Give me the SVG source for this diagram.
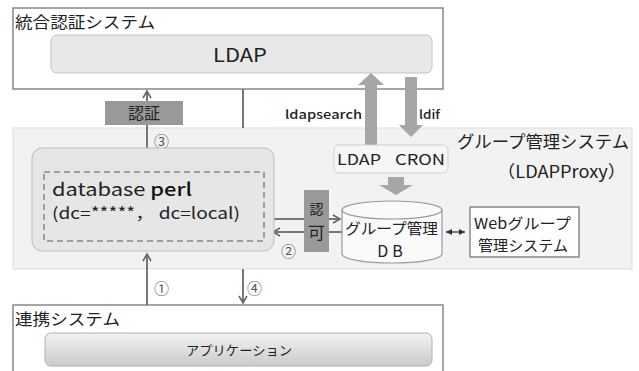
<svg xmlns="http://www.w3.org/2000/svg" width="639" height="371" viewBox="0 0 639 371">
<defs>
<style>
text{font-family:"Noto Sans CJK JP","Liberation Sans",sans-serif;fill:#222}
.sys{fill:#fff;stroke:#888;stroke-width:1.5}
.ln{stroke:#777;stroke-width:2;fill:none}
.gb{fill:#999}
.big{fill:#a6a6a6}
.num{font-size:15px;fill:#555}
</style>
<linearGradient id="appg" x1="0" y1="0" x2="0" y2="1">
<stop offset="0" stop-color="#f2f2f2"/>
<stop offset="1" stop-color="#cbcbcb"/>
</linearGradient>
<marker id="ah" markerWidth="10" markerHeight="10" refX="8" refY="5" orient="auto" markerUnits="userSpaceOnUse">
<path d="M1,1 L8,5 L1,9" fill="none" stroke="#666" stroke-width="1.6"/>
</marker>
<marker id="sh" markerWidth="8" markerHeight="8" refX="6" refY="4" orient="auto-start-reverse" markerUnits="userSpaceOnUse">
<path d="M0,1 L6,4 L0,7 Z" fill="#333"/>
</marker>
</defs>
<rect width="639" height="371" fill="#fff"/>

<g id="ninsho-system">
<rect class="sys" x="13" y="8" width="430" height="81"/>
<text x="15" y="28" font-size="16" textLength="140" lengthAdjust="spacingAndGlyphs">統合認証システム</text>
</g>
<g id="ldap">
<rect x="51" y="35" width="381" height="38" rx="6" fill="#e8e8e8" stroke="#c4c4c4"/>
<text x="213" y="62" font-size="19" textLength="54" lengthAdjust="spacingAndGlyphs">LDAP</text>
</g>

<g id="group-system">
<rect x="13" y="128" width="619" height="141" fill="#f2f2f2" stroke="#dcdcdc"/>
<text x="457" y="148" font-size="17" textLength="172" lengthAdjust="spacingAndGlyphs">グループ管理システム</text>
<text x="497" y="178" font-size="17" textLength="129" lengthAdjust="spacingAndGlyphs">（LDAPProxy）</text>
</g>

<g id="renkei-system">
<rect class="sys" x="13" y="305" width="430" height="70"/>
<text x="15" y="325" font-size="16" textLength="105" lengthAdjust="spacingAndGlyphs">連携システム</text>
</g>
<g id="app">
<rect x="45" y="333" width="387" height="33" rx="6" fill="url(#appg)" stroke="#b0b0b0"/>
<text x="186" y="355" font-size="13" textLength="106" lengthAdjust="spacingAndGlyphs">アプリケーション</text>
</g>

<g id="connectors">
<line class="ln" x1="147" y1="148" x2="147" y2="91" marker-end="url(#ah)"/>
<line class="ln" x1="243" y1="89" x2="243" y2="128"/>
<line class="ln" x1="147" y1="305" x2="147" y2="254" marker-end="url(#ah)"/>
<line class="ln" x1="243" y1="269" x2="243" y2="303" marker-end="url(#ah)"/>
<line class="ln" x1="274" y1="219" x2="340" y2="219" marker-end="url(#ah)"/>
<line class="ln" x1="342" y1="232" x2="273" y2="232" marker-end="url(#ah)"/>
<line x1="446" y1="232" x2="465" y2="232" stroke="#333" stroke-width="1.3" marker-start="url(#sh)" marker-end="url(#sh)"/>
<path class="big" d="M365,145 V85 H358 L371,73 L384,85 H377 V145 Z"/>
<path class="big" d="M405,77 V125 H399 L411,137 L423,125 H417 V77 Z"/>
<path class="big" d="M388,177 V185 H379 L396,195 L413,185 H404 V177 Z"/>
<text x="285" y="119" font-size="12" font-weight="500" textLength="77" lengthAdjust="spacingAndGlyphs">ldapsearch</text>
<text x="419" y="119" font-size="12" font-weight="500" textLength="21" lengthAdjust="spacingAndGlyphs">ldif</text>
<text class="num" x="154" y="147">③</text>
<text class="num" x="281" y="257">②</text>
<text class="num" x="154" y="294">①</text>
<text class="num" x="247" y="294">④</text>
</g>

<g id="ninsho-label">
<rect class="gb" x="105" y="101" width="78" height="24"/>
<text x="144" y="119" font-size="16" text-anchor="middle">認証</text>
</g>

<g id="database-perl">
<rect x="32" y="148" width="242" height="103" rx="10" fill="#e6e6e6" stroke="#bdbdbd"/>
<rect x="44" y="172" width="220" height="69" fill="none" stroke="#888" stroke-width="1.5" stroke-dasharray="6,4"/>
<text x="52" y="196" font-size="18" textLength="140" lengthAdjust="spacingAndGlyphs">database <tspan font-weight="500" fill="#111">perl</tspan></text>
<text x="52" y="219" font-size="16" textLength="188" lengthAdjust="spacingAndGlyphs">(dc=*****， dc=local)</text>
</g>

<g id="ninka-label">
<rect class="gb" x="304" y="190" width="25" height="62"/>
<text x="316.5" y="214" font-size="14" text-anchor="middle">認</text>
<text x="316.5" y="239" font-size="17" text-anchor="middle">可</text>
</g>

<g id="ldap-cron">
<rect x="334" y="145" width="114" height="28" rx="5" fill="#f6f6f6" stroke="#cfcfcf"/>
<text x="337" y="165" font-size="15" textLength="44" lengthAdjust="spacingAndGlyphs">LDAP</text>
<text x="395" y="165" font-size="15" textLength="50" lengthAdjust="spacingAndGlyphs">CRON</text>
</g>

<g id="group-db">
<path d="M342,210 V254 A50,9 0 0 0 442,254 V210" fill="#fafafa" stroke="#999" stroke-width="1.2"/>
<ellipse cx="392" cy="210" rx="50" ry="9" fill="#fafafa" stroke="#999" stroke-width="1.2"/>
<text x="345" y="234" font-size="15" textLength="93" lengthAdjust="spacingAndGlyphs">グループ管理</text>
<text x="392" y="257" font-size="16" text-anchor="middle" letter-spacing="4">DB</text>
</g>

<g id="web-group">
<rect x="470" y="207" width="109" height="50" fill="#fff" stroke="#888" stroke-width="1.5"/>
<text x="474" y="229" font-size="15" textLength="97" lengthAdjust="spacingAndGlyphs">Webグループ</text>
<text x="478" y="251" font-size="15" textLength="90" lengthAdjust="spacingAndGlyphs">管理システム</text>
</g>
</svg>
